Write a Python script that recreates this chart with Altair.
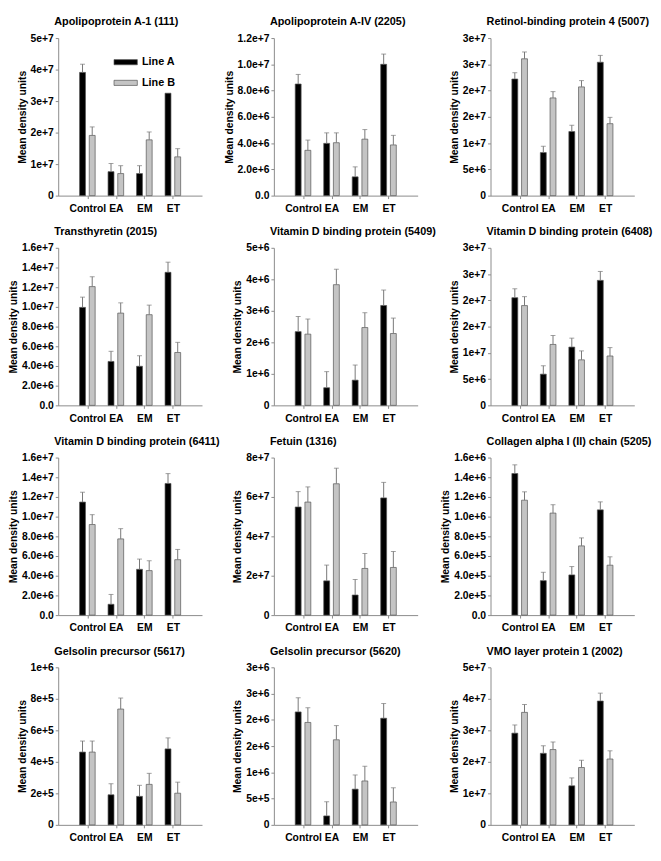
import altair as alt
import pandas as pd

groups = ["Control", "EA", "EM", "ET"]
series = ["Line A", "Line B"]

titles = [
    "Apolipoprotein A-1 (111)",
    "Apolipoprotein A-IV (2205)",
    "Retinol-binding protein 4 (5007)",
    "Transthyretin (2015)",
    "Vitamin D binding protein (5409)",
    "Vitamin D binding protein (6408)",
    "Vitamin D binding protein (6411)",
    "Fetuin (1316)",
    "Collagen alpha I (II) chain (5205)",
    "Gelsolin precursor (5617)",
    "Gelsolin precursor (5620)",
    "VMO layer protein 1 (2002)",
]

line_a = [
    [3.91e7, 0.76e7, 0.70e7, 3.25e7],
    [8.5e6, 3.98e6, 1.43e6, 1.0e7],
    [2.22e7, 8.2e6, 1.22e7, 2.54e7],
    [9.95e6, 4.46e6, 3.97e6, 1.351e7],
    [2.34e6, 0.56e6, 0.80e6, 3.17e6],
    [2.05e7, 5.94e6, 1.11e7, 2.38e7],
    [1.148e7, 1.1e6, 4.65e6, 1.337e7],
    [5.49e7, 1.74e7, 1.02e7, 5.95e7],
    [1.438e6, 3.5e5, 4.08e5, 1.069e6],
    [4.62e5, 1.91e5, 1.81e5, 4.82e5],
    [2.15e6, 1.7e5, 6.8e5, 2.03e6],
    [2.91e7, 2.27e7, 1.24e7, 3.93e7],
]
err_a = [
    [0.26e7, 0.26e7, 0.25e7, 0.0],
    [0.73e6, 0.8e6, 0.76e6, 0.78e6],
    [1.2e6, 1.2e6, 1.2e6, 1.3e6],
    [1.04e6, 1.03e6, 1.07e6, 1.03e6],
    [0.48e6, 0.51e6, 0.48e6, 0.49e6],
    [1.7e6, 1.6e6, 1.7e6, 1.7e6],
    [1.0e6, 1.0e6, 1.04e6, 1.0e6],
    [0.78e7, 0.8e7, 0.79e7, 0.79e7],
    [0.88e5, 0.85e5, 0.85e5, 0.81e5],
    [0.7e5, 0.7e5, 0.7e5, 0.7e5],
    [2.7e5, 2.7e5, 2.7e5, 2.8e5],
    [0.26e7, 0.24e7, 0.25e7, 0.25e7],
]
line_b = [
    [1.91e7, 0.70e7, 1.77e7, 1.23e7],
    [3.45e6, 4.03e6, 4.3e6, 3.86e6],
    [2.605e7, 1.86e7, 2.07e7, 1.37e7],
    [1.206e7, 9.37e6, 9.21e6, 5.37e6],
    [2.26e6, 3.83e6, 2.47e6, 2.28e6],
    [1.9e7, 1.16e7, 8.67e6, 9.4e6],
    [9.2e6, 7.74e6, 4.52e6, 5.63e6],
    [5.74e7, 6.67e7, 2.37e7, 2.42e7],
    [1.167e6, 1.036e6, 7.03e5, 5.07e5],
    [4.62e5, 7.35e5, 2.57e5, 2.01e5],
    [1.95e6, 1.62e6, 8.36e5, 4.36e5],
    [3.57e7, 2.39e7, 1.82e7, 2.09e7],
]
err_b = [
    [0.27e7, 0.25e7, 0.25e7, 0.26e7],
    [0.78e6, 0.75e6, 0.73e6, 0.73e6],
    [1.3e6, 1.2e6, 1.2e6, 1.2e6],
    [1.0e6, 1.04e6, 0.97e6, 1.03e6],
    [0.48e6, 0.49e6, 0.47e6, 0.49e6],
    [1.7e6, 1.7e6, 1.7e6, 1.6e6],
    [1.0e6, 1.04e6, 1.0e6, 1.04e6],
    [0.77e7, 0.79e7, 0.76e7, 0.81e7],
    [0.85e5, 0.85e5, 0.81e5, 0.85e5],
    [0.7e5, 0.7e5, 0.7e5, 0.7e5],
    [2.8e5, 2.7e5, 2.8e5, 2.7e5],
    [0.25e7, 0.24e7, 0.23e7, 0.26e7],
]

y_max = [5e7, 1.2e7, 3e7, 1.6e7, 5e6, 3e7, 1.6e7, 8e7, 1.6e6, 1e6, 3e6, 5e7]
y_step = [1e7, 2e6, 5e6, 2e6, 1e6, 5e6, 2e6, 2e7, 2e5, 2e5, 5e5, 1e7]
y_fmt = [".0e", ".1e", ".0e", ".1e", ".0e", ".0e", ".1e", ".0e", ".1e", ".0e", ".0e", ".0e"]

W, H = 146, 160
GRAY_FILL = "#c4c4c4"
EDGE = "#555555"
ERR = "#777777"
AXIS_C = "#8a8a8a"


def panel(i):
    rows = []
    for gi, g in enumerate(groups):
        rows.append({"group": g, "pos": gi + 1, "line": series[0],
                     "value": line_a[i][gi], "err": err_a[i][gi]})
        rows.append({"group": g, "pos": gi + 1, "line": series[1],
                     "value": line_b[i][gi], "err": err_b[i][gi]})
    df = pd.DataFrame(rows)
    df["top"] = df["value"] + df["err"]

    n = int(round(y_max[i] / y_step[i]))
    ticks = [round(k * y_step[i], 6) for k in range(n + 1)]
    zero_lbl = "0.0" if y_fmt[i] == ".1e" else "0"

    base = alt.Chart(df).transform_calculate(
        xp="datum.pos + (datum.line == 'Line A' ? -0.17 : 0.17)"
    )
    x_scale = alt.Scale(domain=[0.15, 4.85], nice=False, zero=False)
    x_axis = alt.Axis(
        values=[1, 2, 3, 4],
        labelExpr="['','Control','EA','EM','ET'][datum.value]",
        title=None, grid=False, tickSize=3, labelPadding=5,
        labelFontSize=10.5, labelFontWeight="bold", labelColor="black",
        labelOverlap=False,
        domainColor=AXIS_C, tickColor=AXIS_C,
    )
    y_scale = alt.Scale(domain=[0, y_max[i]], nice=False)
    y_axis = alt.Axis(
        values=ticks,
        labelExpr=f"datum.value == 0 ? '{zero_lbl}' : format(datum.value, '{y_fmt[i]}')",
        title="Mean density units", titleFontSize=10.5, titleFontWeight="bold",
        titleColor="black", titlePadding=3,
        grid=False, tickSize=3, labelPadding=2, labelOverlap=False,
        labelFontSize=10.5, labelFontWeight="bold", labelColor="black",
        domainColor=AXIS_C, tickColor=AXIS_C,
    )
    x = alt.X("xp:Q", scale=x_scale, axis=x_axis)
    if i == 0:
        legend = alt.Legend(
            orient="none", legendX=56, legendY=12, title=None,
            symbolType="M-1,-0.22L1,-0.22L1,0.22L-1,0.22Z", symbolSize=560,
            symbolStrokeColor=EDGE, symbolStrokeWidth=0.7,
            labelFontSize=11, labelFontWeight="bold", labelColor="black",
            rowPadding=3, labelOffset=4,
        )
    else:
        legend = None
    color = alt.Color(
        "line:N",
        scale=alt.Scale(domain=series, range=["black", GRAY_FILL]),
        legend=legend,
    )
    bars = base.mark_bar(width=6, stroke=EDGE, strokeWidth=0.7).encode(
        x=x, y=alt.Y("value:Q", scale=y_scale, axis=y_axis), color=color
    )
    err_df = base.transform_filter("datum.err > 0")
    rules = err_df.mark_rule(color=ERR, strokeWidth=1).encode(
        x=x, y=alt.Y("value:Q", scale=y_scale, axis=y_axis), y2="top:Q"
    )
    caps = err_df.mark_tick(orient="horizontal", size=5, thickness=1, color=ERR).encode(
        x=x, y=alt.Y("top:Q", scale=y_scale, axis=y_axis)
    )
    return alt.layer(bars, rules, caps).properties(
        width=W, height=H,
        title=alt.Title(titles[i], anchor="start", frame="group", fontSize=11,
                        fontWeight="bold", color="black", offset=6, dx=-4),
    )


chart = alt.concat(
    *[panel(i) for i in range(12)],
    columns=3,
    spacing=alt.RowColnumber(row=12, column=4),
).resolve_scale(color="independent").properties(
    padding={"left": 0, "top": 2, "right": 0, "bottom": 0}
).configure(
    font="Liberation Sans"
).configure_view(stroke=None)

chart.save("out.html", embed_options={"renderer": "svg", "actions": False})
